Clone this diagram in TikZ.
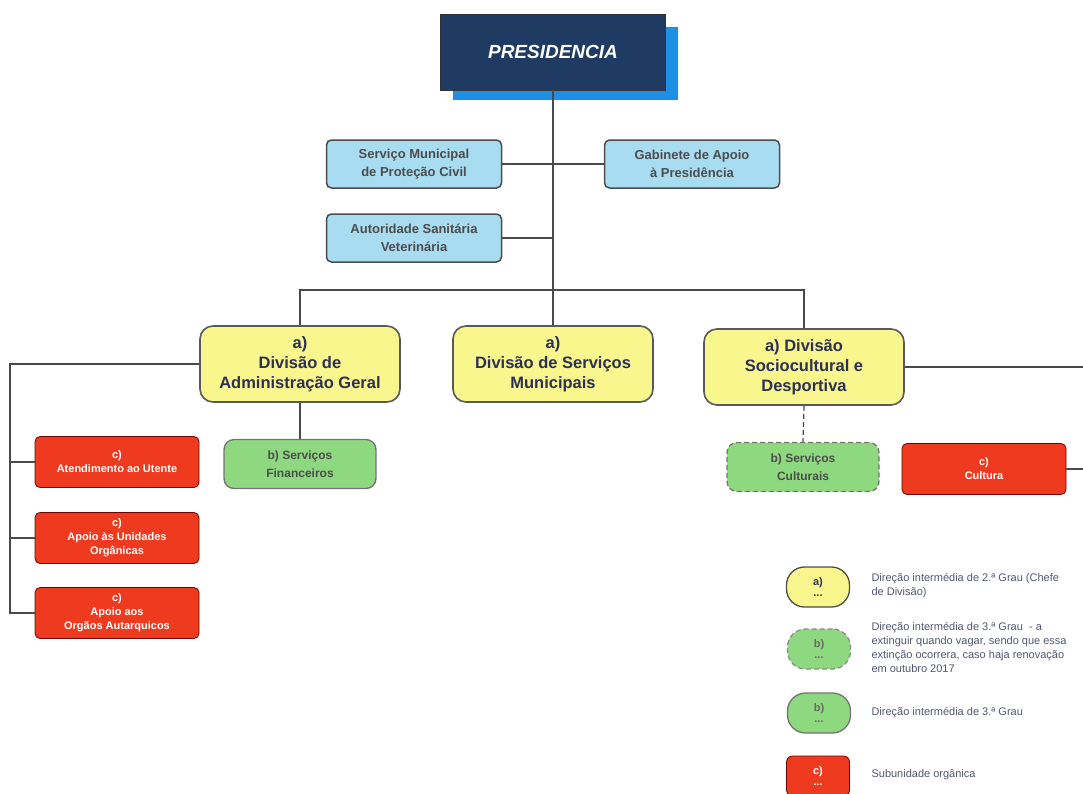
\documentclass[tikz,border=0pt]{standalone}
\usepackage{fontspec}
\setmainfont{Liberation Sans}
\usetikzlibrary{positioning}

\definecolor{presblue}{HTML}{1F3B63}
\definecolor{shadowblue}{HTML}{1E8FE6}
\definecolor{boxblue}{HTML}{A8DCF0}
\definecolor{divyellow}{HTML}{F8F68C}
\definecolor{divtext}{HTML}{2C3055}
\definecolor{servgreen}{HTML}{8ED880}
\definecolor{unitred}{HTML}{EE3A1F}
\definecolor{linegray}{HTML}{4A4A4A}
\definecolor{legtext}{HTML}{50566E}

\tikzset{
  presbox/.style={draw=black!80, fill=presblue, minimum width=225pt, minimum height=76pt,
    font=\fontsize{19}{22}\selectfont\bfseries\itshape, text=white},
  gabinete/.style={draw=gray!60!black, line width=1.5pt, fill=boxblue, rounded corners=5pt,
    minimum width=175pt, minimum height=48pt, align=center,
    font=\fontsize{13}{18}\selectfont\bfseries, text=black!70},
  divisao/.style={draw=black!65, line width=1.6pt, fill=divyellow, rounded corners=13pt,
    minimum width=200pt, minimum height=76pt, align=center,
    font=\fontsize{16.5}{20}\selectfont\bfseries, text=divtext},
  servico/.style={draw=black!55, line width=1.3pt, fill=servgreen, rounded corners=10pt,
    minimum width=152pt, minimum height=49pt, align=center,
    font=\fontsize{12}{18}\selectfont\bfseries, text=black!70},
  extinguir/.style={servico, dash pattern=on 5pt off 3pt},
  subunidade/.style={draw=red!45!black, line width=0.8pt, fill=unitred, rounded corners=5pt,
    minimum width=164pt, minimum height=51pt, align=center,
    font=\fontsize{11}{14}\selectfont\bfseries, text=white},
  ligacao/.style={draw=linegray, line width=1.2pt},
  legbox/.style={minimum width=63pt, minimum height=40pt, align=center, line width=1.3pt,
    font=\fontsize{11}{15}\selectfont\bfseries},
  legenda/.style={right, align=left, font=\fontsize{11}{14}\selectfont, text=legtext},
}

\begin{document}
\begin{tikzpicture}[x=1pt,y=-1pt]
\useasboundingbox (0,0) rectangle (1083,793);

% Presidencia with its shadow
\node[fill=shadowblue, minimum width=225pt, minimum height=73pt] (presshadow) at (565,63) {};
\node[presbox] (pres) at (553,52) {PRESIDENCIA};

% Support services
\node[gabinete] (smpc) at (414,164) {Serviço Municipal\\de Proteção Civil};
\node[gabinete] (gap) at (692,164) {Gabinete de Apoio\\à Presidência};
\node[gabinete] (asv) at (414,238) {Autoridade Sanitária\\Veterinária};

% Divisions
\node[divisao] (dag) at (300,364) {a)\\Divisão de\\Administração Geral};
\node[divisao] (dsm) at (553,364) {a)\\Divisão de Serviços\\Municipais};
\node[divisao] (dsc) at (804,367) {a) Divisão\\Sociocultural e\\Desportiva};

% Services and subunits
\node[servico] (sf) at (300,464) {b) Serviços\\Financeiros};
\node[extinguir] (scult) at (803,467) {b) Serviços\\Culturais};
\node[subunidade] (cult) at (984,469) {c)\\Cultura};
\node[subunidade] (atend) at (117,462) {c)\\Atendimento ao Utente};
\node[subunidade] (auo) at (117,538) {c)\\Apoio às Unidades\\Orgânicas};
\node[subunidade] (aoa) at (117,613) {c)\\Apoio aos\\Orgãos Autarquicos};

% Free ends
\coordinate (barra) at (553,290);
\coordinate (esq) at (10,364);
\coordinate (dir) at (1083,368);

% Connectors
\draw[ligacao] (pres.south) -- (dsm.north);
\draw[ligacao] (smpc.east) -- (gap.west);
\draw[ligacao] (asv.east) -- (asv.east -| pres.south);
\draw[ligacao] (dag.north) |- (barra) -| (dsc.north);
\draw[ligacao] (dag.west) -- (esq) -- (esq |- aoa.west) -- (aoa.west);
\draw[ligacao] (esq |- atend.west) -- (atend.west);
\draw[ligacao] (esq |- auo.west) -- (auo.west);
\draw[ligacao] (dag.south) -- (sf.north);
\draw[ligacao, dash pattern=on 5pt off 3pt] (dsc.south) -- (scult.north);
\draw[ligacao] (dsc.east) -- (dsc.east -| dir);
\draw[ligacao] (cult.east) -- (cult.east -| dir);

% Legend
\node[legbox, draw=black!70, fill=divyellow, rounded corners=18pt, text=divtext] (lega) at (818,587) {a)\\[-4pt]...};
\node[legbox, draw=black!45, fill=servgreen, rounded corners=18pt, dash pattern=on 5pt off 3pt, text=black!60] (legb) at (819,649) {b)\\[-4pt]...};
\node[legbox, draw=black!55, fill=servgreen, rounded corners=18pt, text=black!60] (legbb) at (819,713) {b)\\[-4pt]...};
\node[legbox, draw=red!45!black, line width=0.8pt, fill=unitred, rounded corners=6pt, text=white] (legc) at (818,776) {c)\\[-4pt]...};

\node[legenda] (txta) at (868,586) {Direção intermédia de 2.ª Grau (Chefe\\de Divisão)};
\node[legenda] (txtb) at (868,647) {Direção intermédia de 3.ª Grau~~- a\\extinguir quando vagar, sendo que essa\\extinção ocorrera, caso haja renovação\\em outubro 2017};
\node[legenda] (txtbb) at (868,713) {Direção intermédia de 3.ª Grau};
\node[legenda] (txtc) at (868,775) {Subunidade orgânica};

\end{tikzpicture}
\end{document}
